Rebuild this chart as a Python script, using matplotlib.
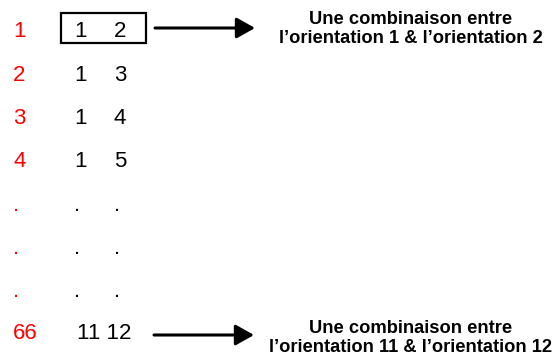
import matplotlib.pyplot as plt
from matplotlib.patches import Rectangle

row_labels = ['1', '2', '3', '4', '.', '.', '.', '66']
first = ['1', '1', '1', '1', '.', '.', '.', '11']
second = ['2', '3', '4', '5', '.', '.', '.', '12']
notes = ['Une combinaison entre\nl\u2019orientation 1 & l\u2019orientation 2',
         'Une combinaison entre\nl\u2019orientation 11 & l\u2019orientation 12']


def main():
    plt.rcParams['font.family'] = ['Liberation Sans', 'DejaVu Sans']
    fig = plt.figure(figsize=(5.58, 3.61), dpi=100)
    ax = fig.add_axes([0, 0, 1, 1])
    ax.set_xlim(0, 558)
    ax.set_ylim(361, 0)
    ax.axis('off')

    # text baselines of the rows, in pixels from the top
    baselines = [37, 81, 124, 167, 211, 254, 297, 339]
    for lab, a, b, y in zip(row_labels, first, second, baselines):
        ax.text(13, y, lab, color='red', fontsize=16, ha='left', va='baseline')
        if lab == '66':
            ax.text(104, y, a + ' ' + b, fontsize=16, ha='center', va='baseline')
        else:
            ax.text(74, y, a, fontsize=16, ha='left', va='baseline')
            ax.text(114, y, b, fontsize=16, ha='left', va='baseline')

    ax.add_patch(Rectangle((61, 13), 85, 30, fill=False, lw=1.6, ec='black'))

    style = '-|>,head_length=0.8,head_width=0.45'
    ax.annotate('', xy=(255, 28), xytext=(155, 28),
                arrowprops=dict(arrowstyle=style, lw=2.2, color='black',
                                mutation_scale=14, shrinkA=0, shrinkB=0))
    ax.annotate('', xy=(254, 335), xytext=(154, 335),
                arrowprops=dict(arrowstyle=style, lw=2.2, color='black',
                                mutation_scale=14, shrinkA=0, shrinkB=0))

    ax.text(411, 29, notes[0], fontsize=13.2, fontweight='bold', ha='center', va='center',
            linespacing=1.2)
    ax.text(411, 338, notes[1], fontsize=13.2, fontweight='bold', ha='center', va='center',
            linespacing=1.2)

    fig.savefig('out.png', dpi=100)


if __name__ == "__main__":
    main()
